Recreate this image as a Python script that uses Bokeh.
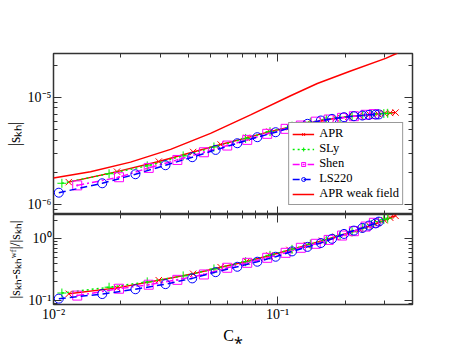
from bokeh.plotting import figure
from bokeh.models import (LogAxis, FixedTicker, CustomJSTickFormatter, Range1d, Legend)
from bokeh.layouts import column
from bokeh.embed import file_html
from bokeh.resources import INLINE

# ---------------- data ----------------
apr_c = [0.0117, 0.0192, 0.0295, 0.042, 0.0557, 0.0727, 0.092, 0.113, 0.135, 0.158,
         0.182, 0.207, 0.232, 0.257, 0.28, 0.30, 0.318, 0.336]
apr_s = [1.62e-6, 2.03e-6, 2.52e-6, 3.10e-6, 3.64e-6, 4.20e-6, 4.80e-6, 5.28e-6, 5.72e-6, 6.10e-6,
         6.40e-6, 6.63e-6, 6.80e-6, 6.95e-6, 7.05e-6, 7.12e-6, 7.18e-6, 7.24e-6]
apr_r = [0.128, 0.160, 0.213, 0.271, 0.347, 0.430, 0.535, 0.660, 0.790, 0.930,
         1.08, 1.24, 1.42, 1.62, 1.82, 2.00, 2.20, 2.36]

sly_c = [0.0109, 0.0177, 0.0262, 0.0379, 0.052, 0.072, 0.0925, 0.116, 0.14, 0.165,
         0.19, 0.215, 0.24, 0.262, 0.282, 0.298, 0.31]
sly_s = [1.58e-6, 1.94e-6, 2.30e-6, 2.85e-6, 3.45e-6, 4.15e-6, 4.80e-6, 5.40e-6, 5.88e-6, 6.25e-6,
         6.50e-6, 6.70e-6, 6.85e-6, 6.95e-6, 7.03e-6, 7.08e-6, 7.12e-6]
sly_r = [0.132, 0.164, 0.200, 0.250, 0.325, 0.425, 0.540, 0.675, 0.820, 0.970,
         1.13, 1.30, 1.50, 1.70, 1.90, 2.05, 2.16]

shen_c = [0.01276, 0.0196, 0.0266, 0.0357, 0.0469, 0.0596, 0.0732, 0.0899, 0.1086, 0.127,
          0.148, 0.169, 0.194, 0.219, 0.247, 0.269]
shen_s = [1.51e-6, 1.80e-6, 2.20e-6, 2.61e-6, 3.08e-6, 3.56e-6, 4.02e-6, 4.58e-6, 5.10e-6, 5.47e-6,
          5.95e-6, 6.23e-6, 6.46e-6, 6.69e-6, 6.90e-6, 7.00e-6]
shen_r = [0.120, 0.155, 0.180, 0.216, 0.264, 0.339, 0.408, 0.492, 0.593, 0.715,
          0.830, 0.960, 1.13, 1.33, 1.58, 1.82]

ls_c = [0.01056, 0.0165, 0.0232, 0.0316, 0.0416, 0.0529, 0.0661, 0.0812, 0.098, 0.116,
        0.136, 0.156, 0.175, 0.198, 0.219, 0.239, 0.256, 0.274, 0.283]
ls_s = [1.29e-6, 1.58e-6, 1.92e-6, 2.33e-6, 2.77e-6, 3.24e-6, 3.74e-6, 4.26e-6, 4.74e-6, 5.28e-6,
        5.68e-6, 6.10e-6, 6.32e-6, 6.55e-6, 6.69e-6, 6.79e-6, 6.89e-6, 6.93e-6, 6.95e-6]
ls_r = [0.107, 0.127, 0.152, 0.184, 0.228, 0.288, 0.352, 0.425, 0.512, 0.625,
        0.740, 0.855, 1.00, 1.20, 1.36, 1.50, 1.64, 1.78, 1.90]

wf_c = [0.0100, 0.01463, 0.02207, 0.0333, 0.05022, 0.07575, 0.1143, 0.1504, 0.2118, 0.3035, 0.3434]
wf_s = [1.769e-6, 2.025e-6, 2.491e-6, 3.28e-6, 4.63e-6, 6.88e-6, 1.039e-5, 1.354e-5, 1.772e-5,
        2.325e-5, 2.61e-5]

x_major = [0.01, 0.1]
x_minor = [m * d for d in (0.01, 0.1) for m in range(2, 10)]
top_major = [1e-6, 1e-5]
top_minor = [m * d for d in (1e-7, 1e-6, 1e-5) for m in range(2, 10)]
bot_major = [0.1, 1.0]
bot_minor = [m * d for d in (0.01, 0.1, 1.0) for m in range(2, 10)]

FONT = "Liberation Serif"
FRAME = "#333333"

sup_fmt = CustomJSTickFormatter(code="""
const e = Math.round(Math.log10(tick));
const sup = {'-':'\u207b','0':'\u2070','1':'\u00b9','2':'\u00b2','3':'\u00b3','4':'\u2074',
             '5':'\u2075','6':'\u2076','7':'\u2077','8':'\u2078','9':'\u2079'};
return '10' + String(e).split('').map(c => sup[c]).join('');
""")
blank_fmt = CustomJSTickFormatter(code="return '';")

XR = Range1d(0.01, 0.40)


def style_axis(ax, major, minor, show_labels):
    ax.ticker = FixedTicker(ticks=major, minor_ticks=minor)
    ax.major_tick_in = 8
    ax.major_tick_out = 0
    ax.minor_tick_in = 4
    ax.minor_tick_out = 0
    ax.major_tick_line_color = FRAME
    ax.minor_tick_line_color = FRAME
    ax.major_tick_line_width = 1
    ax.axis_line_color = None
    if show_labels:
        ax.formatter = sup_fmt
        ax.major_label_text_font = FONT
        ax.major_label_text_font_size = "14px"
        ax.major_label_text_color = "black"
        ax.major_label_standoff = 2
    else:
        ax.formatter = blank_fmt
        ax.major_label_text_font_size = "0px"
        ax.major_label_standoff = 0
    ax.axis_label_text_font = FONT
    ax.axis_label_text_font_style = "normal"
    ax.axis_label_text_color = "black"


def make_fig(height, yr, top_border, bottom_border):
    p = figure(width=448, height=height, x_axis_type="log", y_axis_type="log",
               x_range=XR, y_range=yr, output_backend="svg", toolbar_location=None,
               min_border_left=53, min_border_right=36,
               min_border_top=top_border, min_border_bottom=bottom_border)
    p.grid.visible = False
    p.outline_line_color = FRAME
    p.outline_line_width = 1.5
    p.background_fill_color = "white"
    p.border_fill_color = "white"
    return p


# ---------------- top panel ----------------
top = make_fig(214, Range1d(8.07e-7, 2.58e-5), 53, 0)
style_axis(top.xaxis[0], x_major, x_minor, False)
style_axis(top.yaxis[0], top_major, top_minor, True)
top.yaxis[0].axis_label = "|s\u2096\u2095|"
top.yaxis[0].axis_label_text_font_size = "16px"
top.yaxis[0].axis_label_standoff = 2
ax_t = LogAxis()
style_axis(ax_t, x_major, x_minor, False)
top.add_layout(ax_t, "above")
ax_r = LogAxis()
style_axis(ax_r, top_major, top_minor, False)
top.add_layout(ax_r, "right")

# ---------------- bottom panel ----------------
bot = make_fig(135, Range1d(0.086, 2.48), 0, 45)
style_axis(bot.xaxis[0], x_major, x_minor, True)
bot.xaxis[0].axis_label = "C\u204e"
bot.xaxis[0].axis_label_text_font_size = "16px"
bot.xaxis[0].axis_label_standoff = 2
style_axis(bot.yaxis[0], bot_major, bot_minor, True)
bot.yaxis[0].axis_label = "|s\u2096\u2095-s\u2096\u2095\u02b7\u1da0|/|s\u2096\u2095|"
bot.yaxis[0].axis_label_text_font_size = "14px"
bot.yaxis[0].axis_label_standoff = 2
ax_t2 = LogAxis()
style_axis(ax_t2, x_major, x_minor, False)
bot.add_layout(ax_t2, "above")
ax_r2 = LogAxis()
style_axis(ax_r2, bot_major, bot_minor, False)
bot.add_layout(ax_r2, "right")

RED, GREEN, MAG, BLUE = "#ff0000", "#00ee00", "#ff00ff", "#0000ff"
series = [
    ("APR", apr_c, apr_s, apr_r, RED, "solid", "x"),
    ("SLy", sly_c, sly_s, sly_r, GREEN, "2 3", "cross"),
    ("Shen", shen_c, shen_s, shen_r, MAG, "7 3 2 3", "square_dot"),
    ("LS220", ls_c, ls_s, ls_r, BLUE, "7 4", "circle"),
]

items = []
for name, c, s, r, col, dash, mk in series:
    l1 = top.line(c, s, line_color=col, line_width=1.5, line_dash=dash)
    m1 = top.scatter(c, s, marker=mk, size=9, line_color=col, fill_color=None, line_width=1)
    bot.line(c, r, line_color=col, line_width=1.5, line_dash=dash)
    bot.scatter(c, r, marker=mk, size=9, line_color=col, fill_color=None, line_width=1)
    items.append((name, [l1, m1]))

wf = top.line(wf_c, wf_s, line_color=RED, line_width=1.5)
items.append(("APR weak field", [wf]))

legend = Legend(items=items, location="bottom_right")
legend.label_text_font = FONT
legend.label_text_font_size = "12.5px"
legend.label_text_color = "black"
legend.border_line_color = FRAME
legend.border_line_width = 1.5
legend.background_fill_alpha = 1
legend.glyph_width = 22
legend.glyph_height = 10
legend.label_height = 10
legend.spacing = -4
legend.padding = 3
legend.margin = 9
legend.label_standoff = 5
top.add_layout(legend)

layout = column(top, bot, spacing=0)

open("out.html", "w").write(file_html(layout, INLINE))
